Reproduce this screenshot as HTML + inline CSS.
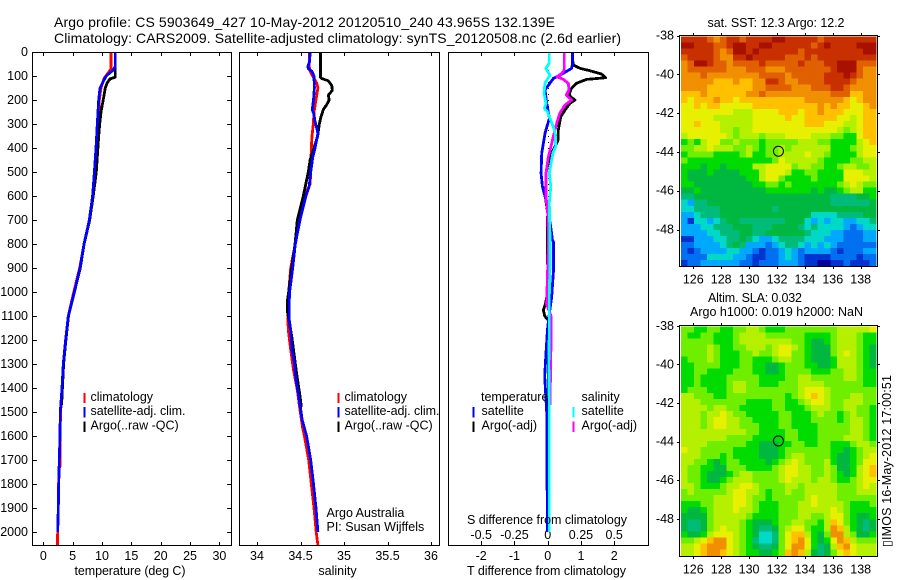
<!DOCTYPE html>
<html lang="en">
<head>
<meta charset="utf-8">
<title>Argo profile 5903649_427</title>
<style>
html,body{margin:0;padding:0;background:#fff;}
svg{display:block;}
text{font-family:"Liberation Sans",sans-serif;font-size:12.5px;fill:#000;}
.main{font-size:14px;}
.box{fill:none;stroke:#000;stroke-width:1;shape-rendering:crispEdges;}
</style>
</head>
<body>
<svg id="fig" xmlns="http://www.w3.org/2000/svg" width="900" height="580" viewBox="0 0 900 580">
  <rect x="0" y="0" width="900" height="580" fill="#fff"/>
  <text class="main" x="54" y="27" textLength="501" lengthAdjust="spacing">Argo profile: CS 5903649_427 10-May-2012 20120510_240 43.965S 132.139E</text>
  <text class="main" x="54" y="43" textLength="567" lengthAdjust="spacing">Climatology: CARS2009. Satellite-adjusted climatology: synTS_20120508.nc (2.6d earlier)</text>

  <g id="maps"></g>
  <g id="axes"></g>
  <g id="lines"></g>

  <rect class="box" x="32.5" y="52.5" width="199" height="493"/>
  <rect class="box" x="239.5" y="52.5" width="200" height="493"/>
  <rect class="box" x="448.5" y="52.5" width="200" height="493"/>
  <rect class="box" x="679.5" y="35.5" width="198" height="231"/>
  <rect class="box" x="679.5" y="325.5" width="198" height="231"/>

  <text x="130" y="575" text-anchor="middle" textLength="111" lengthAdjust="spacing">temperature (deg C)</text>
  <text x="337.5" y="575" text-anchor="middle">salinity</text>
  <text x="467" y="575" textLength="159" lengthAdjust="spacing">T difference from climatology</text>
  <text x="467" y="524" textLength="160" lengthAdjust="spacing">S difference from climatology</text>

  <g>
    <rect x="83.5" y="393" width="2" height="10" fill="#f00"/>
    <rect x="83.5" y="407" width="2" height="10.5" fill="#00f"/>
    <rect x="83.5" y="421.5" width="2" height="10.5" fill="#000"/>
    <text x="90.5" y="401">climatology</text>
    <text x="90.5" y="415" textLength="95" lengthAdjust="spacing">satellite-adj. clim.</text>
    <text x="90.5" y="429.5">Argo(..raw -QC)</text>
  </g>
  <g>
    <rect x="337.5" y="393" width="2" height="10" fill="#f00"/>
    <rect x="337.5" y="407" width="2" height="10.5" fill="#00f"/>
    <rect x="337.5" y="421.5" width="2" height="10.5" fill="#000"/>
    <text x="344.5" y="401">climatology</text>
    <text x="344.5" y="415" textLength="95" lengthAdjust="spacing">satellite-adj. clim.</text>
    <text x="344.5" y="429.5">Argo(..raw -QC)</text>
  </g>
  <text x="326.5" y="517">Argo Australia</text>
  <text x="326.5" y="531">PI: Susan Wijffels</text>
  <g>
    <text x="481" y="401">temperature</text>
    <rect x="472.5" y="407" width="2" height="10.5" fill="#00f"/>
    <rect x="472.5" y="421.5" width="2" height="10.5" fill="#000"/>
    <text x="481.5" y="415">satellite</text>
    <text x="481.5" y="429.5">Argo(-adj)</text>
    <text x="581.5" y="401">salinity</text>
    <rect x="572.5" y="407" width="2" height="10.5" fill="#0ff"/>
    <rect x="572.5" y="421.5" width="2" height="10.5" fill="#f0f"/>
    <text x="581.5" y="415">satellite</text>
    <text x="581.5" y="429.5">Argo(-adj)</text>
  </g>

  <text x="707.5" y="27" font-size="12" textLength="137" lengthAdjust="spacing">sat. SST: 12.3 Argo: 12.2</text>
  <text x="708" y="302" textLength="94" lengthAdjust="spacing">Altim. SLA: 0.032</text>
  <text x="690" y="316" textLength="173" lengthAdjust="spacing">Argo h1000: 0.019 h2000: NaN</text>
  <text transform="translate(891,547) rotate(-90)" textLength="172" lengthAdjust="spacing" style="font-family:'Liberation Sans','DejaVu Sans',sans-serif">▯IMOS 16-May-2012 17:00:51</text>
</svg>

<script>
// ---------- tick values ----------
const depthTicks = [0,100,200,300,400,500,600,700,800,900,1000,1100,1200,1300,1400,1500,1600,1700,1800,1900,2000];
const tempTicks = [0,5,10,15,20,25,30];
const salTicks = [34,34.5,35,35.5,36];
const dtTicks = [-2,-1,0,1,2];
const dsTicks = [-0.5,-0.25,0,0.25,0.5];
const lonTicks = [126,128,130,132,134,136,138];
const latTicks = [-38,-40,-42,-44,-46,-48];
const floatLon = 132.139;
const floatLat = -43.965;

// ---------- temperature profiles ----------
const tempClimDepth = [0,70,90,110,150,200,250,300,400,500,600,700,800,900,1000,1100,1200,1300,1400,1500,1600,1650,1725,1730,1800,1900,2000,2054];
const tempClim      = [11.53,11.53,10.97,10.34,9.83,9.54,9.43,9.3,9.05,8.8,8.5,7.85,6.95,6.2,5.2,4.26,3.8,3.4,3.2,2.95,2.85,2.9,2.9,2.75,2.6,2.55,2.45,2.4];
const tempArgoDepth = [0,105,112,130,150,200,250,300,350,400,500,600,700,800,900,1000,1100,1200,1300,1400,1470];
const tempArgo      = [12.27,12.27,11.36,10.85,10.56,10.2,9.83,9.6,9.43,9.3,9.03,8.5,7.9,6.95,6.3,5.3,4.3,3.85,3.45,3.25,3.12];
const tempSatDepth  = [0,60,75,100,150,200,300,400,500,600,700,800,900,1000,1100,1200,1300,1400,1500,1600,1700,1800,1900,2000];
const tempSat       = [12.27,12.27,11.93,10.7,9.66,9.43,9.2,8.98,8.7,8.4,7.84,6.93,6.25,5.3,4.26,3.8,3.4,3.18,2.9,2.85,2.73,2.62,2.56,2.45];

// ---------- salinity profiles ----------
const salClimDepth = [0,60,80,100,130,150,180,250,300,350,400,500,550,600,700,800,900,1000,1033,1117,1172,1228,1325,1408,1492,1567,1600,1700,1800,1900,2000,2054];
const salClim      = [34.6,34.6,34.61,34.64,34.686,34.7,34.686,34.655,34.647,34.632,34.624,34.617,34.61,34.55,34.494,34.44,34.387,34.364,34.353,34.353,34.364,34.383,34.42,34.463,34.494,34.525,34.545,34.594,34.624,34.655,34.68,34.7];
const salArgoDepth = [0,105,110,120,140,160,180,200,220,240,270,300,350,400,450,500,600,700,750,800,900,1000,1033,1083,1186,1339,1422,1480];
const salArgo      = [34.73,34.73,34.74,34.82,34.86,34.866,34.82,34.83,34.8,34.762,34.736,34.716,34.698,34.655,34.61,34.59,34.532,34.463,34.45,34.437,34.398,34.364,34.35,34.35,34.4,34.455,34.49,34.51];
const salSatDepth  = [0,40,60,70,80,100,150,200,240,260,290,320,340,400,440,500,560,600,700,800,900,1000,1033,1117,1158,1242,1283,1367,1450,1533,1600,1700,1800,1900,2000];
const salSat       = [34.61,34.605,34.586,34.59,34.63,34.655,34.66,34.65,34.636,34.655,34.667,34.69,34.7,34.667,34.64,34.617,34.6,34.563,34.494,34.44,34.41,34.375,34.371,34.371,34.387,34.402,34.425,34.448,34.486,34.52,34.57,34.617,34.65,34.678,34.7];

// ---------- difference profiles ----------
const dtArgoDepth = [3,33,54,68,78,92,107,114,130,151,172,186,200,214,242,270,325,367,394,440,505,603,672,750,800,900,1000,1050,1075,1100,1120,1400,1950];
const dtArgo      = [0.75,0.75,0.77,0.97,1.27,1.62,1.74,1.17,0.87,0.72,0.65,0.68,0.82,0.67,0.52,0.39,0.32,0.31,0.22,0.05,-0.05,-0.07,0,-0.01,-0.01,0,0,-0.07,-0.13,-0.09,0.03,0.02,0];
const dtSatDepth  = [0,47,68,89,110,158,214,276,339,422,505,561,617,672,728,783,790,915,1020,1100,1160,1255,1350,1450,1500,2000];
const dtSat       = [0.75,0.75,0.72,0.47,0.17,-0.08,-0.03,0.05,-0.08,-0.18,-0.2,-0.16,-0.05,0.02,0.09,0.14,0.17,0.17,0.12,0.04,-0.01,-0.05,-0.09,-0.05,-0.03,-0.01];
const dsArgoDepth = [3,75,89,103,114,130,158,179,200,221,256,297,353,400,436,505,603,672,783,1050,1100,1210,1470];
const dsArgo      = [0.125,0.125,0.105,0.07,0.117,0.155,0.16,0.14,0.18,0.13,0.09,0.068,0.042,0.022,0.005,-0.013,-0.013,0,0.007,-0.008,0.025,0.025,0.017];
const dsSatDepth  = [3,47,68,96,130,172,214,235,248,270,311,339,394,422,505,561,630,783,880,1020,1160,1300,1500,2000];
const dsSat       = [0.012,0.012,-0.015,0.017,-0.02,-0.028,-0.013,-0.025,-0.003,0.012,0.042,0.057,0.06,0.038,0.012,0.023,0.012,0.017,0.017,0.012,0.012,0.008,0.012,0.012];

// ---------- map data (colour level per grid cell, north to south) ----------
const sstLevels = [
[14,14,14,14,13,12,13,14,14,13,14,14,14,14,15,15,14,14,14,14,14,13,14,14,14,14,14,14,14,14],
[15,15,14,14,14,13,13,14,15,15,14,14,15,15,14,14,14,14,14,14,13,14,15,14,14,14,14,15,15,15],
[14,14,14,14,14,13,12,13,15,15,14,15,14,14,14,14,14,14,13,14,14,14,14,14,14,14,14,14,15,15],
[13,14,14,14,14,13,12,12,14,14,15,14,14,14,14,14,13,13,13,14,13,14,14,14,14,14,14,14,14,14],
[12,13,15,15,14,13,13,12,13,13,13,13,14,13,13,13,13,13,14,13,13,13,14,14,15,15,15,13,13,13],
[12,13,13,13,13,13,13,12,12,12,13,13,13,12,12,12,13,13,13,13,13,13,13,14,15,15,15,13,12,12],
[12,12,12,13,12,12,12,12,12,12,12,12,13,13,13,13,12,13,13,13,13,13,14,14,14,15,14,13,12,12],
[12,12,12,12,12,11,11,11,12,11,11,12,12,14,14,13,12,12,13,13,13,13,14,14,14,14,13,12,12,12],
[12,12,12,12,11,11,11,11,11,11,11,12,12,13,13,13,13,12,12,12,13,13,13,14,14,13,12,12,12,12],
[11,11,11,12,11,11,11,11,11,11,12,12,13,12,12,12,12,12,12,12,12,12,12,13,13,13,11,11,12,12],
[11,10,11,11,11,12,11,11,10,11,11,11,11,11,11,11,11,11,11,12,12,12,12,12,12,11,10,11,12,12],
[10,10,11,10,11,11,10,10,10,10,10,11,11,11,11,11,11,11,11,11,11,12,11,12,11,11,10,10,11,12],
[10,10,10,10,10,10,10,10,9,9,9,10,10,10,10,11,11,11,10,11,11,12,11,11,11,10,10,10,11,11],
[10,10,10,10,10,9,9,9,9,9,9,10,10,10,10,10,11,10,10,11,11,11,11,11,10,10,9,10,11,11],
[10,10,11,10,10,10,9,9,9,9,9,10,10,10,10,10,10,10,10,11,11,11,10,10,10,9,9,10,11,11],
[10,10,10,10,10,10,9,9,8,9,9,10,10,10,10,10,10,10,10,10,10,10,10,10,9,8,9,10,11,11],
[9,10,10,10,10,10,10,9,8,9,9,9,8,9,9,9,10,10,10,10,9,9,9,8,8,7,7,10,11,11],
[7,8,7,9,10,10,8,8,9,8,8,8,7,8,8,8,8,8,9,9,9,8,8,7,7,7,7,9,10,11],
[8,8,9,9,10,9,9,9,8,8,9,8,7,8,8,9,8,9,9,9,9,9,9,7,7,7,8,9,10,10],
[7,8,8,8,8,7,7,7,7,8,9,7,7,8,8,9,9,9,9,10,9,9,8,7,7,7,7,9,10,10],
[8,7,7,7,7,7,7,7,7,7,7,7,7,7,8,10,9,9,9,9,9,8,7,7,7,7,8,8,9,9],
[7,7,7,6,7,7,6,7,7,7,7,9,9,10,10,10,10,8,9,9,8,8,7,7,8,9,9,8,8,9],
[7,6,6,6,7,6,6,6,6,7,7,7,9,10,10,10,9,7,7,8,8,7,7,7,7,10,10,10,9,9],
[7,6,6,6,6,6,6,6,6,6,7,7,9,10,10,8,7,7,7,7,8,7,7,7,7,10,10,10,10,9],
[7,7,6,6,6,6,6,6,6,6,6,7,7,8,8,7,8,7,7,7,7,7,7,7,8,9,10,9,8,8],
[6,6,7,6,6,6,6,6,6,6,6,6,6,7,7,7,7,7,7,7,6,7,6,6,7,8,9,9,7,7],
[5,5,6,6,6,6,6,6,6,6,6,6,6,6,6,6,6,6,6,6,6,6,6,5,5,5,5,6,6,7],
[4,3,5,5,6,6,6,6,6,6,6,6,6,6,6,6,6,6,6,6,6,6,6,5,5,5,5,5,5,6],
[4,4,5,5,5,5,6,6,6,6,6,6,6,6,5,6,6,6,6,6,6,6,6,6,6,6,6,6,6,6],
[3,3,4,5,5,5,6,6,6,6,6,6,6,6,6,6,6,6,6,6,4,4,4,4,5,5,5,5,6,6],
[3,1,4,4,3,4,5,6,6,5,5,5,5,5,5,5,6,6,6,4,3,4,3,4,4,3,3,4,4,5],
[3,3,3,4,4,5,5,5,6,6,6,5,5,5,6,6,6,6,5,4,5,4,4,4,4,3,2,3,4,4],
[3,3,3,3,4,4,5,5,5,6,6,5,5,6,6,6,6,6,6,5,4,4,4,3,3,2,2,2,3,3],
[1,1,3,3,3,4,4,5,5,6,5,4,3,3,4,5,5,5,5,4,4,4,3,3,3,2,2,2,3,3],
[2,2,3,3,3,3,4,5,6,5,3,3,3,2,3,4,5,5,4,3,4,3,4,3,2,2,2,2,2,2],
[2,1,2,3,3,3,3,4,4,3,3,2,1,2,2,3,4,3,2,3,3,3,3,2,1,2,2,2,3,3],
[2,2,2,2,4,4,4,4,3,3,2,1,1,2,2,3,4,3,2,1,1,1,1,2,2,2,2,1,2,2],
[1,2,2,3,3,3,3,3,3,2,2,1,2,2,2,3,3,3,2,1,1,0,0,1,1,2,1,1,1,2]
];
const slaLevels = [
[8,8,7,7,8,8,7,7,8,8,9,9,8,7,7,7,8,8,8,8,8,8,8,8,9,9,9,9,9,10],
[8,7,7,8,8,7,7,7,8,9,9,9,9,8,8,8,8,8,8,7,7,7,7,8,9,9,9,8,7,7],
[8,8,8,8,8,7,7,7,8,9,9,9,9,9,9,9,9,8,8,7,6,6,7,8,9,9,9,8,7,7],
[8,8,8,8,9,8,7,7,8,8,9,9,9,8,9,10,10,9,8,7,6,6,6,8,9,9,9,8,7,6],
[8,8,8,8,9,8,7,7,7,8,8,9,8,8,9,10,10,8,8,7,6,6,6,8,9,10,9,8,7,6],
[7,8,8,8,9,8,7,7,7,8,8,7,7,7,8,9,9,8,8,7,6,6,6,7,9,9,9,8,7,6],
[7,7,8,8,8,8,7,7,7,8,8,7,7,6,6,7,8,8,8,7,7,6,6,7,9,9,9,8,7,6],
[7,7,8,8,7,7,7,7,8,8,8,7,7,6,6,7,8,8,8,8,7,7,7,8,8,9,9,8,7,7],
[7,7,8,7,7,7,7,8,8,8,8,8,7,7,7,7,8,8,9,9,8,8,8,8,8,9,9,8,7,7],
[7,7,8,7,7,7,7,8,9,9,8,8,7,7,7,8,8,8,9,9,9,9,8,8,8,8,8,8,7,7],
[7,8,8,8,7,7,7,8,9,9,8,8,8,8,8,8,8,8,9,10,10,10,9,8,8,8,8,8,8,8],
[9,9,8,8,8,7,7,8,8,8,8,8,8,8,8,8,7,8,9,10,11,10,9,8,8,8,9,9,8,8],
[9,9,9,8,8,8,8,8,8,8,7,7,7,7,8,8,7,7,8,9,10,10,9,8,8,9,9,9,8,8],
[9,9,9,9,8,9,9,8,8,7,7,7,7,7,8,8,7,7,7,8,9,9,9,8,8,9,9,8,8,7],
[9,9,9,8,9,9,10,9,8,8,7,7,7,7,7,8,8,7,7,7,8,9,8,8,7,8,9,8,8,7],
[9,9,9,8,9,10,10,9,9,8,8,7,7,7,7,8,8,7,7,7,8,8,8,8,7,8,9,9,8,7],
[9,9,9,8,9,10,10,9,9,8,8,8,7,7,7,8,8,7,7,7,7,8,8,8,8,8,9,9,8,7],
[9,9,9,9,9,9,9,9,9,9,8,8,7,7,7,7,8,8,7,7,7,8,8,8,8,8,9,9,8,7],
[9,9,9,9,9,9,9,8,8,8,8,7,7,7,7,7,8,8,7,7,7,8,8,8,8,9,9,9,8,7],
[9,9,9,9,8,8,8,8,8,8,7,7,6,6,6,7,7,8,8,7,7,8,8,7,7,7,8,9,9,8],
[10,9,9,8,8,8,8,8,7,7,7,7,6,6,6,7,8,8,8,8,8,8,8,7,7,6,7,8,9,9],
[9,9,9,8,8,8,7,8,7,7,7,7,6,6,6,7,8,9,9,8,8,8,8,7,6,6,7,8,9,10],
[9,9,8,8,7,6,7,8,8,7,7,7,7,6,7,8,9,10,9,8,8,8,9,7,6,6,7,8,10,10],
[9,8,8,7,7,6,6,8,8,8,7,7,7,7,8,9,10,10,9,9,8,8,9,8,6,6,7,9,10,11],
[9,8,8,7,6,6,6,7,8,9,9,8,8,8,8,9,10,10,9,9,8,8,9,8,7,6,7,9,10,11],
[9,8,8,7,6,6,7,8,9,9,9,8,8,8,8,9,10,9,9,9,8,9,9,8,7,7,8,9,10,10],
[9,9,8,7,7,7,8,9,9,10,10,9,8,8,8,8,9,9,8,9,9,9,9,9,8,8,8,9,10,9],
[8,9,8,8,8,8,8,9,10,10,9,9,8,7,8,8,9,8,8,9,9,9,9,9,8,8,8,9,9,9],
[8,8,8,8,8,9,9,9,10,10,9,8,8,7,8,8,8,8,8,9,10,9,9,9,8,8,8,8,8,8],
[7,7,7,8,8,9,9,9,10,10,9,8,7,7,7,8,8,8,9,9,10,9,9,9,9,8,7,7,7,8],
[7,6,6,7,8,9,9,9,10,9,9,8,7,7,7,8,8,8,9,9,9,9,9,10,9,8,7,7,7,7],
[6,6,6,6,8,9,9,9,9,9,8,7,7,7,7,8,8,8,9,9,8,8,9,10,10,8,7,6,6,7],
[6,5,5,6,8,9,9,9,9,8,7,6,6,6,7,8,8,9,9,8,8,7,9,11,10,8,7,6,5,6],
[6,5,5,6,8,9,10,9,9,8,7,6,5,5,6,8,9,10,10,8,7,7,9,12,11,9,7,6,5,6],
[7,6,6,7,9,10,10,10,9,8,7,6,4,4,5,8,10,11,11,9,7,6,8,12,12,9,8,6,6,7],
[8,8,9,10,11,12,12,10,9,8,7,5,4,4,5,8,10,11,12,10,7,6,7,10,12,11,9,8,8,8],
[9,9,10,11,12,12,12,10,9,8,7,6,5,5,6,8,10,12,12,10,7,5,6,9,11,12,10,9,9,9],
[9,9,10,11,12,12,11,10,9,8,7,7,6,6,7,8,11,12,11,9,6,5,6,8,10,11,10,9,9,9]
];

// ---------- axis functions ----------
const yDepth = d => 52 + 0.24 * d;
const xTemp = t => 43.3 + 5.87 * t;
const xSal = s => 257 + 87 * (s - 34);
const xDT = t => 547.7 + 33.25 * t;
const xDS = s => 547.7 + 133 * s;
const xLon = l => 693.3 + 13.95 * (l - 126);
const ySst = l => 35.5 + 19.4 * (-38 - l);
const ySla = l => 325.8 + 19.3 * (-38 - l);
const gridLon0 = 125.12, gridDLon = 0.466, gridLat0 = -38.04, gridDLat = 0.312;

const palette = ['#00009c','#0034d0','#0070f0','#00a8ff','#00d8c8','#00bc78','#00b840','#00dc00','#70ee00','#b4f000','#e6f000','#ffc000','#f09000','#e06000','#c83000','#a81000'];
const levelColor = v => palette[Math.max(0, Math.min(palette.length - 1, Math.round(v)))];

const SVGNS = 'http://www.w3.org/2000/svg';
const axesG = document.getElementById('axes');
const linesG = document.getElementById('lines');
const mapsG = document.getElementById('maps');

function tickLine(x1, y1, x2, y2) {
  const el = document.createElementNS(SVGNS, 'line');
  
  
  el.setAttribute('x1', x1); el.setAttribute('y1', y1);
  el.setAttribute('x2', x2); el.setAttribute('y2', y2);
  el.setAttribute('stroke', '#000');
  el.setAttribute('shape-rendering', 'crispEdges');
  axesG.appendChild(el);
}
function tickLabel(x, y, str, anchor) {
  const el = document.createElementNS(SVGNS, 'text');
  
  
  el.setAttribute('x', x); el.setAttribute('y', y);
  el.setAttribute('text-anchor', anchor);
  el.textContent = str;
  axesG.appendChild(el);
}
function drawSeries(depths, values, xFn, color, name) {
  const el = document.createElementNS(SVGNS, 'polyline');
  
  
  el.setAttribute('points', depths.map((d, i) => xFn(values[i]).toFixed(1) + ',' + yDepth(d).toFixed(1)).join(' '));
  el.setAttribute('fill', 'none');
  el.setAttribute('stroke', color);
  el.setAttribute('stroke-width', '2.8');
  el.setAttribute('stroke-linejoin', 'round');
  el.setAttribute('shape-rendering', 'crispEdges');
  linesG.appendChild(el);
}
function drawMap(levels, yFn, name, ringY) {
  levels.forEach((row, r) => {
    row.forEach((v, c) => {
      const x0 = xLon(gridLon0 + c * gridDLon);
      const x1 = xLon(gridLon0 + (c + 1) * gridDLon);
      const y0 = yFn(gridLat0 - r * gridDLat);
      const y1 = yFn(gridLat0 - (r + 1) * gridDLat);
      const el = document.createElementNS(SVGNS, 'rect');
      
      
      el.setAttribute('x', x0.toFixed(2));
      el.setAttribute('y', y0.toFixed(2));
      el.setAttribute('width', (x1 - x0 + 0.4).toFixed(2));
      el.setAttribute('height', (y1 - y0 + 0.4).toFixed(2));
      el.setAttribute('fill', levelColor(v));
      el.setAttribute('shape-rendering', 'crispEdges');
      mapsG.appendChild(el);
    });
  });
  const ring = document.createElementNS(SVGNS, 'circle');
  
  
  ring.setAttribute('cx', xLon(floatLon) - 0.5);
  ring.setAttribute('cy', ringY(floatLat));
  ring.setAttribute('r', 5);
  ring.setAttribute('fill', 'none');
  ring.setAttribute('stroke', '#000');
  mapsG.appendChild(ring);
}

// ---------- maps ----------
drawMap(sstLevels, ySst, 'sst-map', ySst);
drawMap(slaLevels, ySla, 'sla-map', ySla);

// ---------- profile panel ticks ----------
depthTicks.forEach(d => {
  const y = Math.round(yDepth(d)) + 0.5;
  tickLine(33, y, 37, y);
  tickLine(227, y, 231, y);
  tickLabel(28, yDepth(d) + 4, String(d), 'end');
});
tempTicks.forEach(t => {
  const x = Math.round(xTemp(t)) + 0.5;
  tickLine(x, 53, x, 56);
  tickLine(x, 542, x, 545);
  tickLabel(xTemp(t), 560, String(t), 'middle');
});
salTicks.forEach(s => {
  const x = Math.round(xSal(s)) + 0.5;
  tickLine(x, 53, x, 56);
  tickLine(x, 542, x, 545);
  tickLabel(xSal(s), 560, String(s), 'middle');
});
dtTicks.forEach(t => {
  const x = Math.round(xDT(t)) + 0.5;
  tickLine(x, 53, x, 56);
  tickLine(x, 541, x, 545);
  tickLabel(xDT(t), 560, String(t), 'middle');
});
dsTicks.forEach(s => {
  tickLabel(xDS(s), 539, String(s), 'middle');
});

// ---------- map ticks ----------
lonTicks.forEach(l => {
  const x = Math.round(xLon(l)) + 0.5;
  tickLine(x, 33, x, 35);
  tickLine(x, 267, x, 269);
  tickLabel(xLon(l), 283.5, String(l), 'middle');
  tickLine(x, 323, x, 325);
  tickLine(x, 557, x, 559);
  tickLabel(xLon(l), 573.5, String(l), 'middle');
});
latTicks.forEach(l => {
  const y1 = Math.round(ySst(l)) + 0.5;
  tickLine(677, y1, 679, y1);
  tickLine(878, y1, 880, y1);
  tickLabel(674, ySst(l) + 4, String(l), 'end');
  const y2 = Math.round(ySla(l)) + 0.5;
  tickLine(677, y2, 679, y2);
  tickLine(878, y2, 880, y2);
  tickLabel(674, ySla(l) + 4, String(l), 'end');
});

// ---------- zero reference line in the difference panel ----------
const zero = document.createElementNS(SVGNS, 'line');


zero.setAttribute('x1', xDT(0) + 0.8);
zero.setAttribute('x2', xDT(0) + 0.8);
zero.setAttribute('y1', yDepth(0));
zero.setAttribute('y2', yDepth(2000));
zero.setAttribute('stroke', '#000');
zero.setAttribute('stroke-dasharray', '1 5');
zero.setAttribute('shape-rendering', 'crispEdges');
linesG.appendChild(zero);

// ---------- series ----------
drawSeries(tempClimDepth, tempClim, xTemp, '#f00', 'temperature-climatology-line');
drawSeries(tempArgoDepth, tempArgo, xTemp, '#000', 'temperature-argo-line');
drawSeries(tempSatDepth, tempSat, xTemp, '#00f', 'temperature-satellite-line');
drawSeries(salClimDepth, salClim, xSal, '#f00', 'salinity-climatology-line');
drawSeries(salArgoDepth, salArgo, xSal, '#000', 'salinity-argo-line');
drawSeries(salSatDepth, salSat, xSal, '#00f', 'salinity-satellite-line');
drawSeries(dtArgoDepth, dtArgo, xDT, '#000', 'difference-t-argo-line');
drawSeries(dtSatDepth, dtSat, xDT, '#00f', 'difference-t-satellite-line');
drawSeries(dsArgoDepth, dsArgo, xDS, '#f0f', 'difference-s-argo-line');
drawSeries(dsSatDepth, dsSat, xDS, '#0ff', 'difference-s-satellite-line');
</script>
</body>
</html>
